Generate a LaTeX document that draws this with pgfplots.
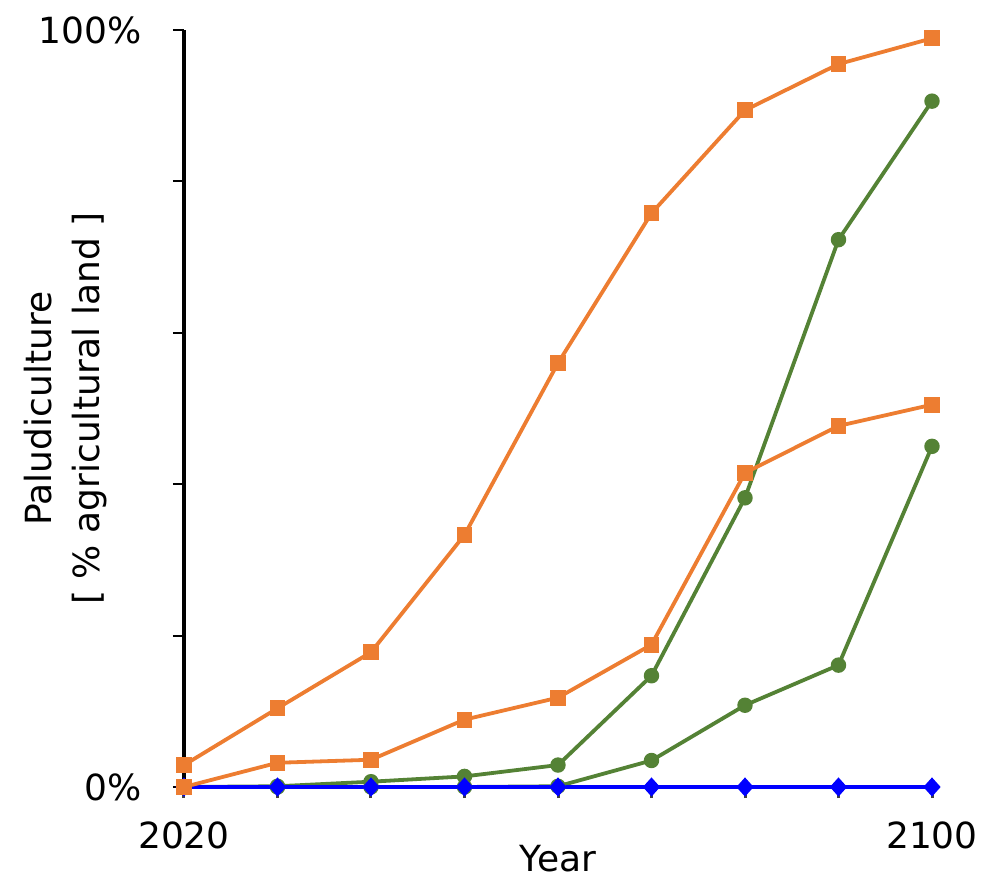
\documentclass[border=0pt]{standalone}
\usepackage{pgfplots}
\pgfplotsset{compat=1.18}
\usepackage{fontspec}
\setmainfont{DejaVu Sans}
\definecolor{orng}{HTML}{ED7D31}
\definecolor{grn}{HTML}{548235}
\begin{document}
\begin{tikzpicture}
\path[use as bounding box] (-92pt,-46.5pt) rectangle (401.5pt,393.5pt);
\begin{axis}[
 scale only axis, width=374pt, height=378.5pt,
 xmin=2020, xmax=2100, ymin=0, ymax=100,
 axis x line=bottom, axis y line=left,
 x axis line style={-, draw=black!75, line width=1pt},
 y axis line style={-, black, line width=1.6pt},
 xtick={2020,2030,...,2100}, xticklabels={2020,,,,,,,,2100},
 ytick={0,20,...,100}, yticklabels={0\%,,,,,100\%},
 tick align=outside,
 x tick style={black!75, line width=1.5pt},
 y tick style={black, line width=1pt},
 major tick length=5.5pt,
 font=\fontsize{18}{24}\selectfont,
 xticklabel style={anchor=north, inner sep=0pt, yshift=-11.5pt},
 yticklabel style={anchor=east, inner sep=0pt, xshift=-15.5pt},
 xlabel={Year},
 xlabel style={at={(axis description cs:0.5,0)}, anchor=north, inner sep=0pt, yshift=-29pt},
 ylabel={Paludiculture\\{[} \% agricultural land {]}},
 ylabel style={at={(axis description cs:-0.103,0.5)}, anchor=south, inner sep=0pt, align=center},
 clip=false,
]
\addplot[grn, line width=1.9pt, mark=*, mark size=2.9pt] coordinates {
 (2020,0) (2030,0.1) (2040,0.7) (2050,1.4) (2060,2.9) (2070,14.7) (2080,38.2) (2090,72.3) (2100,90.6)};
\addplot[grn, line width=1.9pt, mark=*, mark size=2.9pt] coordinates {
 (2020,0) (2030,0) (2040,0) (2050,0) (2060,0.1) (2070,3.5) (2080,10.8) (2090,16.1) (2100,45.0)};
\addplot[blue, line width=2pt, mark=diamond*, mark size=3.3pt, mark options={xscale=1.2}] coordinates {
 (2020,0) (2030,0) (2040,0) (2050,0) (2060,0) (2070,0) (2080,0) (2090,0) (2100,0)};
\addplot[orng, line width=1.9pt, mark=square*, mark size=3pt] coordinates {
 (2020,2.9) (2030,10.4) (2040,17.8) (2050,33.3) (2060,56.0) (2070,75.8) (2080,89.4) (2090,95.5) (2100,98.9)};
\addplot[orng, line width=1.9pt, mark=square*, mark size=3pt] coordinates {
 (2020,0) (2030,3.2) (2040,3.6) (2050,8.9) (2060,11.8) (2070,18.8) (2080,41.5) (2090,47.7) (2100,50.5)};
\end{axis}
\end{tikzpicture}
\end{document}
